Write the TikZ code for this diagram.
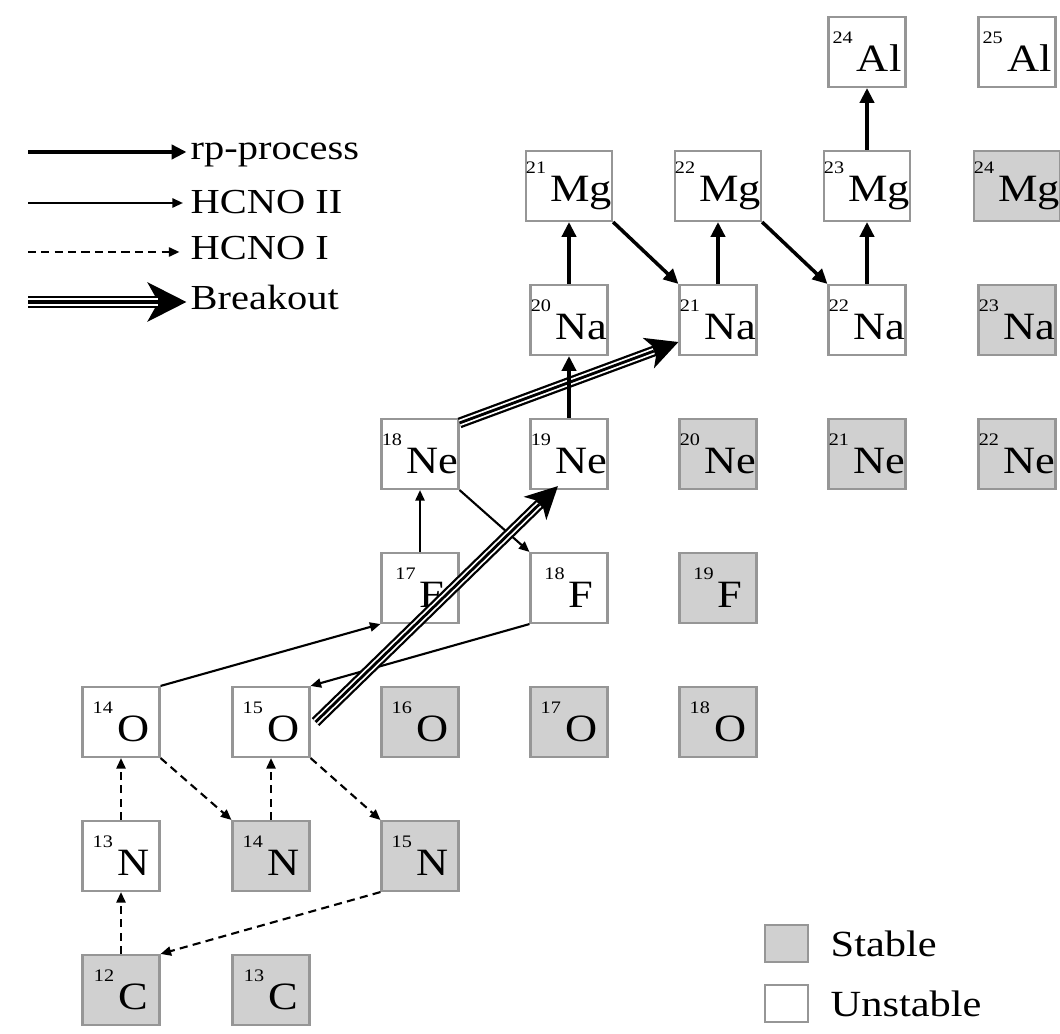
\documentclass[tikz,border=0pt]{standalone}
\usepackage{fontspec}
\setmainfont{Liberation Serif}[FakeStretch=1.15]
\usetikzlibrary{arrows.meta}
\definecolor{boxgray}{RGB}{150,150,150}
\definecolor{stablegray}{RGB}{208,208,208}
\newcommand{\nucl}[2]{\raisebox{8pt}{\fontsize{5}{5}\selectfont #1}\kern1.2pt#2}

\begin{document}
\begin{tikzpicture}

%
% Styles
%
\tikzstyle{stable}   = [draw=boxgray, fill=stablegray, line width=0.6pt, minimum width=0.77cm, minimum height=0.70cm, inner sep=0pt, font=\fontsize{11}{12}\selectfont]
\tikzstyle{unstable} = [stable, fill=white]
\tikzstyle{legtext}  = [anchor=base west, inner sep=0pt, font=\fontsize{10}{12}\selectfont]
\tikzstyle{keytext}  = [anchor=west, inner sep=0pt, font=\fontsize{10.5}{12}\selectfont]

\tikzstyle{rp}       = [-{Triangle[length=4.2pt,width=4pt]}, line width=1pt]
\tikzstyle{hcnoii}   = [-{Triangle[length=3pt,width=2.6pt]}, line width=0.6pt]
\tikzstyle{hcnoi}    = [hcnoii, dash pattern=on 2.3pt off 1.5pt]
\tikzstyle{breakout} = [-{Stealth[length=9pt,width=9pt,inset=2.5pt]}, line width=3.1pt,
                        postaction={draw=white, line width=1.8pt, shorten >=7.5pt, -},
                        postaction={draw=black, line width=0.8pt, shorten >=7.5pt, -}]
\tikzstyle{bigbreakout} = [-{Stealth[length=11pt,width=11pt,inset=3pt]}, line width=3.6pt,
                        postaction={draw=white, line width=2.2pt, shorten >=9pt, -},
                        postaction={draw=black, line width=0.9pt, shorten >=9pt, -}]

\useasboundingbox[fill=white] (0,0) rectangle (10.6,10.33);

% C, N, O
\node[stable]   (c12)  at ( 1.21, 0.43) {\nucl{12}{C}};
\node[stable]   (c13)  at ( 2.71, 0.43) {\nucl{13}{C}};
\node[unstable] (n13)  at ( 1.21, 1.77) {\nucl{13}{N}};
\node[stable]   (n14)  at ( 2.71, 1.77) {\nucl{14}{N}};
\node[stable]   (n15)  at ( 4.20, 1.77) {\nucl{15}{N}};
\node[unstable] (o14)  at ( 1.21, 3.11) {\nucl{14}{O}};
\node[unstable] (o15)  at ( 2.71, 3.11) {\nucl{15}{O}};
\node[stable]   (o16)  at ( 4.20, 3.11) {\nucl{16}{O}};
\node[stable]   (o17)  at ( 5.69, 3.11) {\nucl{17}{O}};
\node[stable]   (o18)  at ( 7.18, 3.11) {\nucl{18}{O}};

% F, Ne
\node[unstable] (f17)  at ( 4.20, 4.45) {\nucl{17}{F}};
\node[unstable] (f18)  at ( 5.69, 4.45) {\nucl{18}{F}};
\node[stable]   (f19)  at ( 7.18, 4.45) {\nucl{19}{F}};
\node[unstable] (ne18) at ( 4.20, 5.79) {\nucl{18}{Ne}};
\node[unstable] (ne19) at ( 5.69, 5.79) {\nucl{19}{Ne}};
\node[stable]   (ne20) at ( 7.18, 5.79) {\nucl{20}{Ne}};
\node[stable]   (ne21) at ( 8.67, 5.79) {\nucl{21}{Ne}};
\node[stable]   (ne22) at (10.17, 5.79) {\nucl{22}{Ne}};

% Na, Mg, Al
\node[unstable] (na20) at ( 5.69, 7.13) {\nucl{20}{Na}};
\node[unstable] (na21) at ( 7.18, 7.13) {\nucl{21}{Na}};
\node[unstable] (na22) at ( 8.67, 7.13) {\nucl{22}{Na}};
\node[stable]   (na23) at (10.17, 7.13) {\nucl{23}{Na}};
\node[unstable] (mg21) at ( 5.69, 8.47) {\nucl{21}{Mg}};
\node[unstable] (mg22) at ( 7.18, 8.47) {\nucl{22}{Mg}};
\node[unstable] (mg23) at ( 8.67, 8.47) {\nucl{23}{Mg}};
\node[stable]   (mg24) at (10.17, 8.47) {\nucl{24}{Mg}};
\node[unstable] (al24) at ( 8.67, 9.81) {\nucl{24}{Al}};
\node[unstable] (al25) at (10.17, 9.81) {\nucl{25}{Al}};

% HCNO I
\draw[hcnoi] (c12.north)      -- (n13.south);
\draw[hcnoi] (n13.north)      -- (o14.south);
\draw[hcnoi] (o14.south east) -- (n14.north west);
\draw[hcnoi] (n14.north)      -- (o15.south);
\draw[hcnoi] (o15.south east) -- (n15.north west);
\draw[hcnoi] (n15.south west) -- (c12.north east);

% HCNO II
\draw[hcnoii] (o14.north east)  -- (f17.south west);
\draw[hcnoii] (f17.north)       -- (ne18.south);
\draw[hcnoii] (ne18.south east) -- (f18.north west);
\draw[hcnoii] (f18.south west)  -- (o15.north east);

% breakout
\draw[breakout] ([xshift=0.5mm]o15.east) -- ([xshift=-1.1mm,yshift=0.4mm]ne19.south);
\draw[breakout] ([yshift=-0.5mm]ne18.north east) -- ([yshift=-2.2mm]na21.west);

% rp-process
\draw[rp] (ne19.north)      -- (na20.south);
\draw[rp] (na20.north)      -- (mg21.south);
\draw[rp] (mg21.south east) -- (na21.north west);
\draw[rp] (na21.north)      -- (mg22.south);
\draw[rp] (mg22.south east) -- (na22.north west);
\draw[rp] (na22.north)      -- (mg23.south);
\draw[rp] (mg23.north)      -- (al24.south);

% legend (arrows)
\coordinate (krp)  at (0.28, 8.81);
\coordinate (kii)  at (0.28, 8.30);
\coordinate (ki)   at (0.28, 7.81);
\coordinate (kbo)  at (0.28, 7.31);
\node[legtext] (lrp) at (1.90, 8.73) {rp-process};
\node[legtext] (lii) at (1.90, 8.19) {HCNO II};
\node[legtext] (li)  at (1.90, 7.73) {HCNO I};
\node[legtext] (lbo) at (1.90, 7.23) {Breakout};
\draw[rp, shorten >=1pt]     (krp) -- (krp -| lrp.west);
\draw[hcnoii, shorten >=2pt] (kii) -- (kii -| lii.west);
\draw[hcnoi, shorten >=3pt]  (ki)  -- (ki -| li.west);
\draw[bigbreakout, shorten >=1pt] (kbo) -- (kbo -| lbo.west);

% legend (boxes)
\node[stable, minimum width=0.43cm, minimum height=0.37cm]   (kst) at (7.865, 0.895) {};
\node[unstable, minimum width=0.43cm, minimum height=0.37cm] (kun) at (7.865, 0.295) {};
\node[keytext] (tst) at (8.30, 0.895) {Stable};
\node[keytext] (tun) at (8.30, 0.295) {Unstable};

\end{tikzpicture}
\end{document}
